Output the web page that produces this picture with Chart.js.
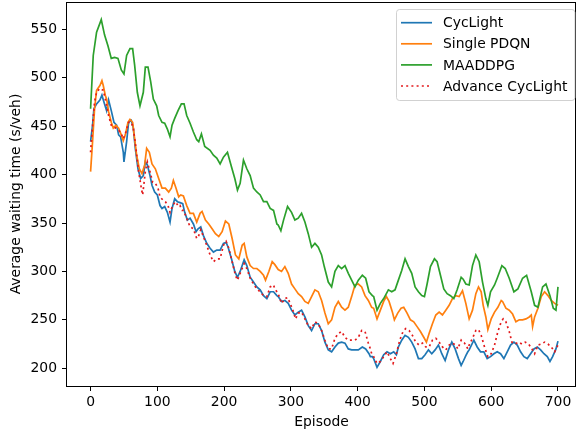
<!DOCTYPE html>
<html>
<head>
<meta charset="utf-8">
<script src="https://cdn.jsdelivr.net/npm/chart.js@4.4.0/dist/chart.umd.min.js"></script>
<style>
  html, body { margin: 0; padding: 0; background: #fff; }
</style>
</head>
<body>
<canvas id="myChart" width="577" height="434"></canvas>
<script>
const xTicks = [0, 100, 200, 300, 400, 500, 600, 700]
const yTicks = [200, 250, 300, 350, 400, 450, 500, 550]

const cycEp = [0,3,5,9,14,17,20,24,27,31,35,39,42,45,49,50,54,57,61,64,67,71,75,79,82,85,89,92,96,100,104,107,111,115,119,122,126,130,134,138,141,145,149,154,158,161,165,169,174,179,184,189,194,199,203,206,211,216,220,224,230,234,239,244,249,254,259,264,269,274,279,281,286,291,296,301,306,311,316,321,326,331,336,341,346,351,356,361,366,371,376,381,386,391,396,401,407,412,417,419,422,424,429,434,439,444,449,454,458,461,466,471,476,481,486,491,496,501,506,511,516,521,526,531,536,541,546,551,555,558,562,565,567,574,579,584,589,594,599,604,609,614,619,624,629,634,639,644,649,654,659,664,669,674,679,684,688,692,697,700]
const cycVal = [434,451,468,473,477,482,475,466,477,466,454,451,441,439,423,413,434,454,456,448,427,406,396,399,413,410,399,389,382,379,368,365,367,361,351,365,375,372,371,370,361,353,355,349,341,344,346,337,329,324,320,322,322,329,330,325,313,300,294,300,312,306,294,289,284,281,275,272,279,279,275,274,269,270,267,260,255,258,260,253,244,239,246,246,239,227,219,217,222,226,227,226,220,219,219,219,222,220,215,212,212,210,201,207,214,217,215,217,214,222,229,234,232,227,220,210,210,214,219,215,219,224,215,208,219,227,220,210,203,207,213,217,219,229,222,217,217,210,212,215,217,215,210,217,224,227,224,217,212,210,215,220,222,219,215,212,207,212,220,228]

const pdqnEp = [0,3,6,9,14,17,19,22,24,27,31,34,38,42,46,49,52,56,59,63,66,69,73,77,81,84,88,92,97,102,107,112,117,121,124,128,132,135,139,144,149,154,159,164,167,172,177,182,187,192,197,202,207,212,217,222,227,230,234,239,244,249,254,259,262,267,272,276,281,286,291,296,301,306,311,316,321,326,331,336,341,346,351,356,361,366,371,376,381,386,391,396,401,406,411,416,421,424,429,434,439,443,447,452,455,460,465,469,474,479,484,489,494,499,503,507,512,517,522,527,532,537,542,547,552,557,562,567,572,577,581,585,588,592,595,600,605,610,615,617,622,627,632,637,642,647,652,657,660,662,665,670,675,680,685,690,695,700]
const pdqnVal = [403,434,468,487,492,497,492,482,478,465,454,448,451,448,441,435,441,454,457,454,437,420,406,401,410,427,423,411,406,396,386,386,382,386,394,386,377,379,378,368,360,360,351,360,362,353,349,344,339,336,341,352,349,334,317,313,327,329,315,306,303,303,300,296,291,300,310,307,302,300,305,298,287,282,277,274,269,267,274,281,279,270,257,246,250,263,269,263,260,263,274,286,287,284,275,270,263,262,251,260,269,274,269,258,250,257,262,263,257,250,248,243,238,232,227,236,246,255,258,255,260,265,272,275,274,280,267,251,260,277,284,279,265,253,240,251,258,263,270,269,262,260,256,248,250,250,251,253,255,243,253,262,274,279,275,270,267,265]

const maEp = [0,4,9,16,21,26,31,36,41,46,50,54,59,63,66,70,74,79,82,86,90,94,99,102,107,111,115,119,122,126,131,136,140,144,149,154,159,162,166,171,179,184,189,194,199,205,211,216,220,224,229,234,239,244,249,254,259,264,269,274,279,281,285,289,295,301,306,311,316,321,326,331,336,341,346,350,356,361,366,371,376,381,386,391,396,401,407,412,417,422,424,429,434,439,446,451,456,461,466,471,476,481,486,491,496,500,504,509,515,519,524,529,534,539,544,549,555,558,562,567,572,577,582,587,592,595,599,605,609,616,621,627,634,640,647,653,660,665,670,677,682,688,693,697,700]
const maVal = [468,523,547,560,544,533,520,521,520,508,504,523,530,530,513,485,471,485,511,511,496,478,471,461,454,453,447,439,451,458,466,473,473,461,453,444,436,434,442,429,425,420,417,411,418,423,408,396,384,391,415,406,399,386,382,379,372,372,365,363,349,348,342,353,367,361,353,355,360,351,339,325,329,325,317,305,289,284,300,306,303,306,298,291,284,291,296,293,279,275,274,260,267,272,281,279,281,291,301,313,305,298,284,279,275,274,287,305,313,310,296,282,277,275,272,281,294,292,287,286,306,317,310,289,272,265,279,286,293,306,303,293,279,282,293,296,279,265,263,284,287,275,262,260,284]

const advEp = [0,3,6,9,14,19,23,27,31,34,38,42,46,49,53,57,61,64,68,72,76,78,82,85,89,93,97,101,104,108,112,116,119,123,127,132,134,137,139,144,149,154,159,162,165,169,174,179,184,189,194,199,203,207,212,217,220,224,230,234,239,244,249,254,259,264,269,274,276,279,281,286,291,295,299,304,307,311,316,321,326,331,336,341,346,351,356,361,366,371,376,381,386,391,396,401,406,411,416,419,421,424,429,434,439,444,449,453,458,463,468,472,477,482,487,492,497,502,507,512,517,522,527,532,537,542,547,550,555,557,560,562,565,567,572,577,581,585,590,595,600,605,610,615,618,622,627,631,636,641,646,651,656,661,665,670,675,680,685,690,695,700]
const advVal = [423,451,475,485,489,487,475,461,451,449,448,446,442,437,444,454,454,448,427,403,386,379,403,413,403,392,391,386,377,374,372,368,361,368,372,367,368,363,363,355,346,344,334,337,343,336,327,317,310,313,313,327,331,324,310,296,291,298,308,303,293,287,282,279,275,274,284,286,282,279,277,267,272,273,267,258,251,257,258,251,244,241,248,246,239,229,220,220,231,236,238,232,229,229,229,232,239,238,226,220,215,212,205,207,212,217,210,205,215,229,238,241,239,234,227,224,226,222,222,229,231,227,222,219,224,226,224,220,229,227,226,224,220,224,231,239,240,234,222,212,215,224,238,248,251,248,238,227,225,227,225,227,225,220,215,224,225,227,225,222,217,224]

const labels = ["CycLight", "Single PDQN", "MAADDPG", "Advance CycLight"]
const font = '"DejaVu Sans", sans-serif'

function pts(ep, val) {
  return ep.map((e, i) => ({x: e, y: val[i]}))
}

// top/right spines like matplotlib
const frame = {
  id: 'frame',
  afterDatasetsDraw(chart) {
    const {ctx, chartArea: a} = chart
    ctx.save()
    ctx.strokeStyle = '#000'
    ctx.lineWidth = 1
    ctx.strokeRect(Math.round(a.left) - 0.5, Math.round(a.top) + 0.5, Math.round(a.right - a.left), Math.round(a.bottom - a.top))
    ctx.restore()
  }
}

const boxLegend = {
  id: 'boxLegend',
  afterDraw(chart) {
    const {ctx, chartArea: a} = chart
    const sets = chart.data.datasets
    ctx.save()
    ctx.font = '13.9px ' + font
    const textW = Math.max(...sets.map(d => ctx.measureText(d.label).width))
    const w = 47 + textW + 7, h = 91
    const x0 = Math.round(a.right - 2 - w), y0 = Math.round(a.top + 7)
    ctx.fillStyle = 'rgba(255,255,255,0.8)'
    ctx.strokeStyle = 'rgba(204,204,204,0.9)'
    ctx.lineWidth = 1
    ctx.beginPath()
    if (ctx.roundRect) ctx.roundRect(x0 + 0.5, y0 + 0.5, w, h, 3)
    else ctx.rect(x0 + 0.5, y0 + 0.5, w, h)
    ctx.fill()
    ctx.stroke()
    sets.forEach((d, i) => {
      const y = y0 + 13.7 + i * 21.1
      ctx.strokeStyle = d.borderColor
      ctx.lineWidth = d.borderWidth
      ctx.setLineDash(d.borderDash || [])
      ctx.beginPath()
      ctx.moveTo(x0 + 5, y)
      ctx.lineTo(x0 + 36, y)
      ctx.stroke()
      ctx.setLineDash([])
      ctx.fillStyle = '#000'
      ctx.textBaseline = 'middle'
      ctx.fillText(d.label, x0 + 47, y + 1)
    })
    ctx.restore()
  }
}

const ctx = document.getElementById('myChart')
new Chart(ctx, {
  type: 'line',
  data: {
    datasets: [
      {label: labels[0], data: pts(cycEp, cycVal), borderColor: '#1f77b4', borderWidth: 1.7, order: 4},
      {label: labels[1], data: pts(pdqnEp, pdqnVal), borderColor: '#ff7f0e', borderWidth: 1.7, order: 3},
      {label: labels[2], data: pts(maEp, maVal), borderColor: '#2ca02c', borderWidth: 1.7, order: 2},
      {label: labels[3], data: pts(advEp, advVal), borderColor: '#e31a1c', borderWidth: 1.7, borderDash: [2, 3.2], order: 1}
    ]
  },
  options: {
    responsive: false,
    animation: false,
    events: [],
    elements: {point: {radius: 0}, line: {tension: 0}},
    layout: {padding: {left: 0, right: 1, top: 2, bottom: 0}},
    plugins: {legend: {display: false}, tooltip: {enabled: false}},
    scales: {
      x: {
        type: 'linear',
        min: -35.3,
        max: 727,
        afterBuildTicks: s => { s.ticks = xTicks.map(v => ({value: v})) },
        afterFit: s => { s.height = 48; s.paddingLeft = 0; s.paddingRight = 0 },
        border: {display: false},
        grid: {drawOnChartArea: false, drawTicks: true, tickLength: 5, tickColor: '#000'},
        ticks: {color: '#000', font: {family: font, size: 13.9}, padding: 3, maxRotation: 0, callback: v => String(v)},
        title: {display: true, text: 'Episode', color: '#000', font: {family: font, size: 13.9}, padding: {top: 0, bottom: 3}}
      },
      y: {
        min: 181.7,
        max: 578.2,
        afterBuildTicks: s => { s.ticks = yTicks.map(v => ({value: v})) },
        afterFit: s => { s.width = 67; s.paddingTop = 0; s.paddingBottom = 0 },
        border: {display: false},
        grid: {drawOnChartArea: false, drawTicks: true, tickLength: 5, tickColor: '#000'},
        ticks: {color: '#000', font: {family: font, size: 13.9}, padding: 5, callback: v => String(v)},
        title: {display: true, text: 'Average waiting time (s/veh)', color: '#000', font: {family: font, size: 13.9}, padding: {top: 8, bottom: 0}}
      }
    }
  },
  plugins: [frame, boxLegend]
})
</script>
</body>
</html>
